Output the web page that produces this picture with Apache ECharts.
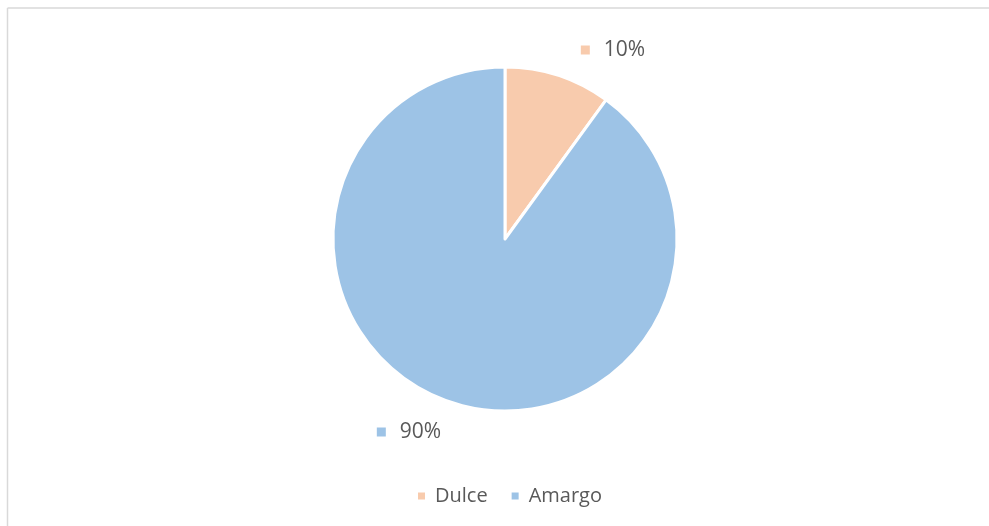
<!DOCTYPE html>
<html>
<head>
<meta charset="utf-8">
<script src="https://cdn.jsdelivr.net/npm/echarts@6/dist/echarts.min.js"></script>
<style>
  html, body { margin: 0; padding: 0; background: #fff; }
  #chart { width: 989px; height: 526px; }
</style>
</head>
<body>
<div id="chart"></div>
<script>
const categories = ['Dulce', 'Amargo']
const values = [10, 90]
const colors = ['#F8CBAD', '#9DC3E6']

// where Excel put the data labels (centre of the text box)
const labelSpots = [[613, 50], [409, 432]]

const chart = echarts.init(document.getElementById('chart'))

chart.setOption({
  animation: false,
  textStyle: { fontFamily: '"Open Sans", "Liberation Sans", sans-serif' },
  graphic: [
    { type: 'line', shape: { x1: 7.5, y1: 8, x2: 989, y2: 8 }, style: { stroke: '#d9d9d9', lineWidth: 1.5 } },
    { type: 'line', shape: { x1: 7.5, y1: 8, x2: 7.5, y2: 526 }, style: { stroke: '#d9d9d9', lineWidth: 1.5 } },
  ],
  legend: {
    bottom: 20,
    left: 416,
    padding: 0,
    icon: 'rect',
    itemWidth: 9,
    itemHeight: 9,
    itemGap: 22,
    textStyle: { color: '#595959', fontSize: 20, padding: [0, 0, 0, 4] },
    data: categories,
  },
  series: [
    {
      type: 'pie',
      center: [505, 239],
      radius: 172,
      startAngle: 90,
      clockwise: true,
      itemStyle: { borderColor: '#fff', borderWidth: 3 },
      emphasis: { disabled: true },
      labelLine: { show: false },
      label: {
        show: true,
        position: 'outside',
        formatter: p => `{m${p.dataIndex}|}{v|${p.percent.toFixed(0)}%}`,
        rich: {
          m0: { width: 9, height: 9, backgroundColor: colors[0] },
          m1: { width: 9, height: 9, backgroundColor: colors[1] },
          v: { color: '#595959', fontSize: 21, padding: [0, 0, 0, 14] },
        },
      },
      labelLayout: p => ({
        x: labelSpots[p.dataIndex][0],
        y: labelSpots[p.dataIndex][1],
        align: 'center',
        verticalAlign: 'middle',
      }),
      data: categories.map((name, i) => ({
        name,
        value: values[i],
        itemStyle: { color: colors[i] },
      })),
    },
  ],
})
</script>
</body>
</html>
